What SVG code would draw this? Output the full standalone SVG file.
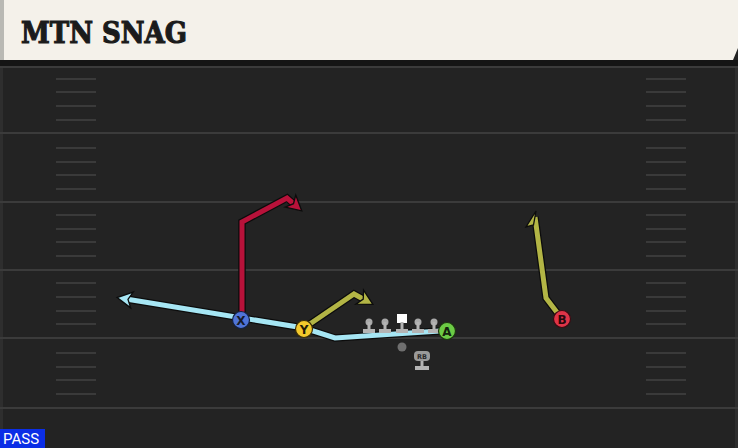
<svg xmlns="http://www.w3.org/2000/svg" width="738" height="448" viewBox="0 0 738 448">
<style>
.major{stroke:#3b3b3b;stroke-width:2}
.hash{stroke:#3a3a3a;stroke-width:2}
.outline{fill:none;stroke:#0c0c0c;stroke-width:7.5;stroke-linejoin:miter;stroke-linecap:butt}
.route{fill:none;stroke-width:5;stroke-linejoin:miter;stroke-linecap:butt}
.lbl{font-family:"DejaVu Sans","Liberation Sans",sans-serif;font-weight:bold;text-anchor:middle}
.lineman circle{fill:#a9a9a9}
.lineman rect{fill:#b4b4b4}
</style>
<defs>
<marker id="arBlue" markerUnits="userSpaceOnUse" markerWidth="20" markerHeight="20" viewBox="0 0 20 20" refX="9" refY="10" orient="auto" overflow="visible">
<path d="M3,2 L18,10 L3,18 L7,10 z" fill="#a6e6f4" stroke="#0c0c0c" stroke-width="1.3"/>
</marker>
<marker id="arRed" markerUnits="userSpaceOnUse" markerWidth="20" markerHeight="20" viewBox="0 0 20 20" refX="9" refY="10" orient="auto" overflow="visible">
<path d="M3,2 L18,10 L3,18 L7,10 z" fill="#b8123a" stroke="#0c0c0c" stroke-width="1.3"/>
</marker>
<marker id="arOlive" markerUnits="userSpaceOnUse" markerWidth="20" markerHeight="20" viewBox="0 0 20 20" refX="9" refY="10" orient="auto" overflow="visible">
<path d="M3,2 L18,10 L3,18 L7,10 z" fill="#b3b545" stroke="#0c0c0c" stroke-width="1.3"/>
</marker>
</defs>

<!-- field -->
<rect x="0" y="0" width="738" height="448" fill="#232323"/>
<rect x="0" y="60" width="738" height="6" fill="#151515"/>
<rect x="0" y="66" width="3" height="382" fill="#2e2e2e"/>
<rect x="735" y="66" width="3" height="382" fill="#2e2e2e"/>
<g id="yardlines">
<line class="major" x1="0" y1="67" x2="738" y2="67"/>
<line class="major" x1="0" y1="133" x2="738" y2="133"/>
<line class="major" x1="0" y1="202" x2="738" y2="202"/>
<line class="major" x1="0" y1="270" x2="738" y2="270"/>
<line class="major" x1="0" y1="338" x2="738" y2="338"/>
<line class="major" x1="0" y1="408" x2="738" y2="408"/>
</g>
<g id="hashes">
<path class="hash" d="M56,79H96M56,92H96M56,106H96M56,120H96M56,148H96M56,162H96M56,175H96M56,189H96M56,215H96M56,229H96M56,242H96M56,256H96M56,283H96M56,297H96M56,311H96M56,324H96M56,353H96M56,367H96M56,380H96M56,394H96"/>
<path class="hash" d="M646,79H686M646,92H686M646,106H686M646,120H686M646,148H686M646,162H686M646,175H686M646,189H686M646,215H686M646,229H686M646,242H686M646,256H686M646,283H686M646,297H686M646,311H686M646,324H686M646,353H686M646,367H686M646,380H686M646,394H686"/>
</g>

<!-- header -->
<g id="header">
<path d="M0,0 H738 V48 L733,60 H0 Z" fill="#f4f1ea"/>
<rect x="0" y="0" width="4" height="60" fill="#b9b9b4"/>
<text x="21" y="43" font-family="'DejaVu Serif','Liberation Serif',serif" font-weight="bold" font-size="30" fill="#1b1b1b" stroke="#1b1b1b" stroke-width="1.2" textLength="166" lengthAdjust="spacingAndGlyphs">MTN SNAG</text>
</g>

<!-- connectors -->
<g id="connectors">
<path class="outline" d="M440,331 L335,338 L304,328 L126,299"/>
<path class="route" stroke="#a6e6f4" d="M440,331 L335,338 L304,328 L126,299" marker-end="url(#arBlue)"/>
<path class="outline" d="M242,320 L242,222 L287,198 L295,205"/>
<path class="route" stroke="#b8123a" d="M242,320 L242,222 L287,198 L295,205" marker-end="url(#arRed)"/>
<path class="outline" d="M304,328 L354,294 L365,300"/>
<path class="route" stroke="#b3b545" d="M304,328 L354,294 L365,300" marker-end="url(#arOlive)"/>
<path class="outline" d="M562,319 L546,298 L535,217"/>
<path class="route" stroke="#b3b545" d="M562,319 L546,298 L535,217"/>
<path d="M536,211 L526,227 L533.5,225 Z" fill="#b3b545" stroke="#0c0c0c" stroke-width="1.3"/>
</g>

<!-- offensive line -->
<g id="LT" class="lineman"><circle cx="369" cy="322" r="3.5"/><rect x="367.5" y="322" width="3" height="8"/><rect x="363" y="329" width="12" height="4"/></g>
<g id="LG" class="lineman"><circle cx="385" cy="322" r="3.5"/><rect x="383.5" y="322" width="3" height="8"/><rect x="379" y="329" width="12" height="4"/></g>
<g id="C" class="lineman"><rect x="397" y="314" width="10" height="9" style="fill:#fff"/><rect x="400.5" y="322" width="3" height="8"/><rect x="396" y="329" width="12" height="4"/></g>
<g id="RG" class="lineman"><circle cx="418" cy="322" r="3.5"/><rect x="416.5" y="322" width="3" height="8"/><rect x="412" y="329" width="12" height="4"/></g>
<g id="RT" class="lineman"><circle cx="434" cy="322" r="3.5"/><rect x="432.5" y="322" width="3" height="8"/><rect x="428" y="329" width="12" height="4"/></g>

<g id="QB"><circle cx="402" cy="347" r="4.5" fill="#6f6f6f"/></g>
<g id="RB">
<rect x="414" y="351" width="16" height="10" rx="4" fill="#9a9a9a"/>
<text x="422" y="359" font-family="'DejaVu Sans','Liberation Sans',sans-serif" font-size="6.5" font-weight="bold" fill="#2a2a2a" text-anchor="middle">RB</text>
<rect x="420.5" y="361" width="3" height="6" fill="#b4b4b4"/>
<rect x="415" y="366" width="14" height="4" fill="#b4b4b4"/>
</g>

<!-- skill players -->
<g id="X"><circle cx="241" cy="320" r="8.5" fill="#4f74d8" stroke="#14213f" stroke-width="1.2"/><text class="lbl" x="241" y="324.5" font-size="12" fill="#161a2a">X</text></g>
<g id="Y"><circle cx="304" cy="329" r="8.5" fill="#f3c92c" stroke="#3a2e08" stroke-width="1.2"/><text class="lbl" x="304" y="333.5" font-size="12" fill="#1e1a08">Y</text></g>
<g id="A"><circle cx="447" cy="331" r="8.5" fill="#6ccb45" stroke="#1c3510" stroke-width="1.2"/><text class="lbl" x="447" y="335.5" font-size="12" fill="#14240c">A</text></g>
<g id="B"><circle cx="562" cy="319" r="8.5" fill="#e03448" stroke="#3a0c12" stroke-width="1.2"/><text class="lbl" x="562" y="323.5" font-size="12" fill="#2a080c">B</text></g>

<!-- pass tag -->
<g id="pass">
<rect x="0" y="429" width="45" height="19" fill="#0b2ee6"/>
<text x="3" y="444" font-family="'Roboto','DejaVu Sans',sans-serif" font-size="15" fill="#ffffff">PASS</text>
</g>
</svg>
